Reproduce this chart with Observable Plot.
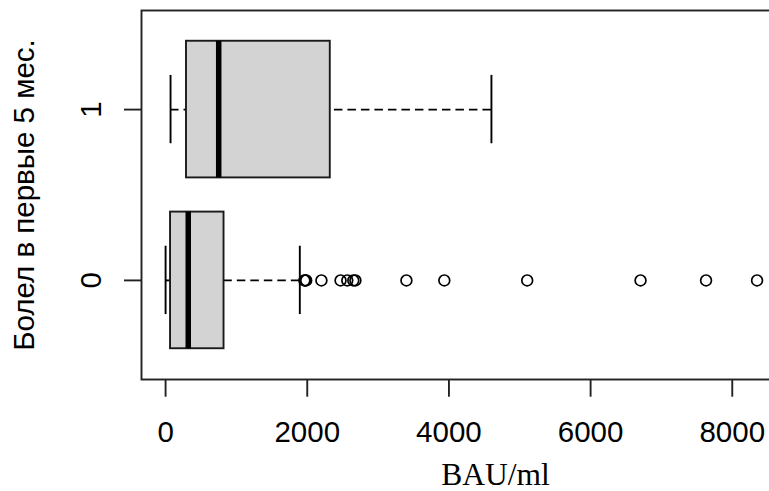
<!DOCTYPE html>
<html>
<head>
<meta charset="utf-8">
<script src="https://cdn.jsdelivr.net/npm/d3@7"></script>
<script src="https://cdn.jsdelivr.net/npm/@observablehq/plot@0.6"></script>
<style>
  html, body { margin: 0; padding: 0; background: #fff; overflow: hidden; }
  #chart svg { display: block; overflow: hidden; }
</style>
</head>
<body>
<div id="chart"></div>
<script>
// Antibody level (BAU/ml) by illness in the first 5 months: box-plot summaries
const groups = ["0", "1"];
const lowerWhisker = [0, 70];
const lowerQuartile = [70, 295];
const medians = [320, 750];
const upperQuartile = [825, 2325];
const upperWhisker = [1895, 4600];
// points beyond the upper whisker, group "0"
const outliers0 = [1960, 1970, 1985, 2200, 2470, 2565, 2650, 2680, 3400, 3935, 5105, 6705, 7630, 8350];
const xTicks = [0, 2000, 4000, 6000, 8000];
const xLimits = [-340, 9655];
const xTitle = "BAU/ml";
const yTitle = "Болел в первые 5 мес.";

const boxes = groups.map((g, i) => ({
  group: g,
  pos: i + 1,
  lo: lowerWhisker[i],
  q1: lowerQuartile[i],
  med: medians[i],
  q3: upperQuartile[i],
  hi: upperWhisker[i]
}));
const outlierRows = outliers0.map(v => ({pos: 1, value: v}));

const boxHalf = 0.4;
const capHalf = 0.2;
const lw = 1.9;
const sans = "'Liberation Sans', Arial, sans-serif";

const chart = Plot.plot({
  width: 769,
  height: 491,
  marginLeft: 141,
  marginRight: -80,
  marginTop: 10,
  marginBottom: 112,
  style: {fontFamily: sans, background: "#fff", color: "#000"},
  x: {domain: xLimits, range: [141, 849]},
  y: {domain: [0.42, 2.58], range: [379, 10]},
  marks: [
    // whiskers: dashed from whisker end to box edge
    Plot.ruleY(boxes, {y: "pos", x1: "hi", x2: "q3", stroke: "#000", strokeWidth: lw, strokeDasharray: "8.5,5"}),
    Plot.ruleY(boxes, {y: "pos", x1: "lo", x2: "q1", stroke: "#000", strokeWidth: lw, strokeDasharray: "8.5,5"}),
    // whisker caps
    Plot.ruleX(boxes, {x: "hi", y1: d => d.pos - capHalf, y2: d => d.pos + capHalf, stroke: "#000", strokeWidth: lw}),
    Plot.ruleX(boxes, {x: "lo", y1: d => d.pos - capHalf, y2: d => d.pos + capHalf, stroke: "#000", strokeWidth: lw}),
    // interquartile boxes
    Plot.rect(boxes, {x1: "q1", x2: "q3", y1: d => d.pos - boxHalf, y2: d => d.pos + boxHalf,
      fill: "#d3d3d3", stroke: "#1a1a1a", strokeWidth: lw}),
    // medians
    Plot.ruleX(boxes, {x: "med", y1: d => d.pos - boxHalf, y2: d => d.pos + boxHalf, stroke: "#000", strokeWidth: 5.5}),
    // outliers
    Plot.dot(outlierRows, {x: "value", y: "pos", r: 5.4, stroke: "#000", strokeWidth: 1.7, fill: "none"}),
    // plot border
    Plot.frame({stroke: "#222", strokeWidth: lw}),
    // axes
    Plot.axisX({ticks: xTicks, tickFormat: "d", tickSize: 17.7, tickPadding: 24.3, fontSize: 29.5,
      stroke: "#222", strokeWidth: lw, fill: "#000", label: null}),
    Plot.axisY({ticks: [1, 2], tickFormat: () => "", tickSize: 17, stroke: "#222", strokeWidth: lw, label: null}),
    Plot.text(boxes, {y: "pos", text: "group", frameAnchor: "left", dx: -41, rotate: -90,
      textAnchor: "middle", lineAnchor: "bottom", fontSize: 29.5, fill: "#000"}),
    // axis titles
    Plot.text([yTitle], {text: d => d, frameAnchor: "left", dx: -108, rotate: -90,
      textAnchor: "middle", lineAnchor: "bottom", fontSize: 29.5, fill: "#000"}),
    Plot.text([xTitle], {text: d => d, frameAnchor: "bottom", dy: 105, lineAnchor: "bottom",
      textAnchor: "middle", fontSize: 31.5, fontFamily: "'Liberation Serif', 'Times New Roman', serif", fill: "#000"})
  ]
});
document.getElementById("chart").append(chart);
</script>
</body>
</html>
